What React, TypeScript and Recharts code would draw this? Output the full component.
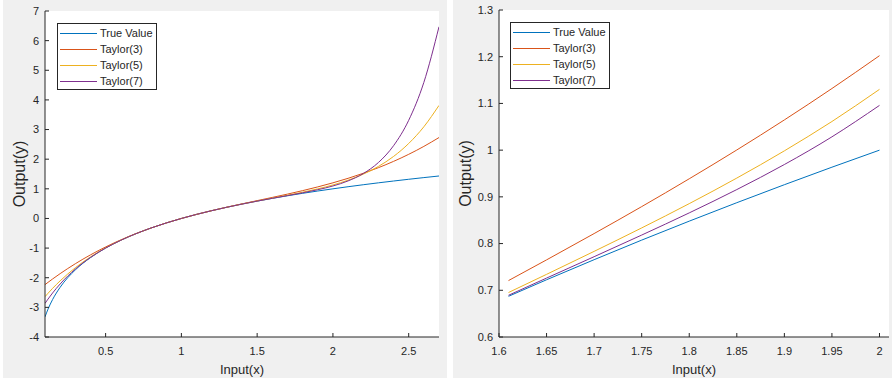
import React from 'react';
import { LineChart, Line, XAxis, YAxis, CartesianGrid, Legend } from 'recharts';

// left subplot: x from 0.1 to 2.7
const leftX = [0.1, 0.12, 0.15, 0.2, 0.3, 0.4, 0.5, 0.6, 0.7, 0.8, 0.9, 1.0, 1.1, 1.2, 1.3, 1.4, 1.5, 1.6, 1.7, 1.8, 1.9, 2.0, 2.1, 2.2, 2.3, 2.4, 2.5, 2.6, 2.7];
const leftTrue = [-3.3219, -3.0589, -2.737, -2.3219, -1.737, -1.3219, -1, -0.737, -0.5146, -0.3219, -0.152, 0, 0.1375, 0.263, 0.3785, 0.4854, 0.585, 0.6781, 0.7655, 0.848, 0.926, 1, 1.0704, 1.1375, 1.2016, 1.263, 1.3219, 1.3785, 1.433];
const leftT3 = [-2.2333, -2.1559, -2.0428, -1.862, -1.5283, -1.2292, -0.9618, -0.7233, -0.5107, -0.3212, -0.152, 0, 0.1375, 0.2635, 0.3809, 0.4924, 0.6011, 0.7098, 0.8214, 0.9387, 1.0647, 1.2022, 1.3542, 1.5235, 1.713, 1.9255, 2.164, 2.4314, 2.7305];
const leftT5 = [-2.6403, -2.5245, -2.3591, -2.1043, -1.6634, -1.2984, -0.9934, -0.7355, -0.5143, -0.3219, -0.152, 0, 0.1375, 0.263, 0.3787, 0.4862, 0.5876, 0.6855, 0.7833, 0.8855, 0.9985, 1.1301, 1.2908, 1.4936, 1.7542, 2.0918, 2.5292, 3.0933, 3.815];
const leftT7 = [-2.8667, -2.7204, -2.5159, -2.2106, -1.7086, -1.3153, -0.9987, -0.7368, -0.5146, -0.3219, -0.152, 0, 0.1375, 0.263, 0.3785, 0.4855, 0.5855, 0.6801, 0.7719, 0.8657, 0.9692, 1.0958, 1.2665, 1.5141, 1.8868, 2.4539, 3.3118, 4.5916, 6.4682];

// right subplot: zoomed in on 1.61 .. 2
const rightX = [1.61, 1.65, 1.7, 1.75, 1.8, 1.85, 1.9, 1.95, 2.0];
const rightTrue = [0.6871, 0.7225, 0.7655, 0.8074, 0.848, 0.8875, 0.926, 0.9635, 1];
const rightT3 = [0.7208, 0.7651, 0.8214, 0.8791, 0.9387, 1.0004, 1.0647, 1.1319, 1.2022];
const rightT5 = [0.6952, 0.7341, 0.7833, 0.8335, 0.8855, 0.9402, 0.9985, 1.0613, 1.1301];
const rightT7 = [0.6893, 0.7261, 0.7719, 0.8182, 0.8657, 0.9156, 0.9692, 1.0285, 1.0958];

const leftXTicks = [0.5, 1, 1.5, 2, 2.5];
const leftYTicks = [-4, -3, -2, -1, 0, 1, 2, 3, 4, 5, 6, 7];
const rightXTicks = [1.6, 1.65, 1.7, 1.75, 1.8, 1.85, 1.9, 1.95, 2];
const rightYTicks = [0.6, 0.7, 0.8, 0.9, 1, 1.1, 1.2, 1.3];

const seriesNames = ['True Value', 'Taylor(3)', 'Taylor(5)', 'Taylor(7)'];
const seriesKeys = ['trueValue', 't3', 't5', 't7'];
const COLORS = ['#0072BD', '#D95319', '#EDB120', '#7E2F8E'];

const FONT = '"Liberation Sans", Arial, Helvetica, sans-serif';
const TEXT = '#262626';
const BG = '#f0f0f0';

const build = (xs: number[], a: number[], b: number[], c: number[], d: number[]) =>
  xs.map((x, i) => ({ x, trueValue: a[i], t3: b[i], t5: c[i], t7: d[i] }));

const leftData = build(leftX, leftTrue, leftT3, leftT5, leftT7);
const rightData = build(rightX, rightTrue, rightT3, rightT5, rightT7);

// legend keeps plotting order (recharts sorts its payload by name otherwise)
const LegendBox = () => (
  <div
    style={{
      width: 100,
      height: 67,
      boxSizing: 'border-box',
      border: `1px solid ${TEXT}`,
      background: '#fff',
      paddingTop: 1,
      fontFamily: FONT,
      fontSize: 11,
      color: TEXT,
    }}
  >
    {seriesNames.map((name, i) => (
      <div key={name} style={{ display: 'flex', alignItems: 'center', height: 16 }}>
        <span style={{ display: 'block', width: 37, height: 1, background: COLORS[i], margin: '0 3px 0 2px' }} />
        <span>{name}</span>
      </div>
    ))}
  </div>
);

const tickStyle = { fill: TEXT, fontSize: 11, fontFamily: FONT };

interface PanelProps {
  data: any[];
  left: number;
  width: number;
  yAxisWidth: number;
  margin: { top: number; right: number; bottom: number; left: number };
  xDomain: number[];
  yDomain: number[];
  xTicks: number[];
  yTicks: number[];
  yLabelOffset: number;
  legendLeft: number;
  legendTop: number;
}

const Panel = (p: PanelProps) => (
  <div style={{ position: 'absolute', left: p.left, top: 0, width: p.width, height: 378, background: BG }}>
    <LineChart width={p.width} height={378} data={p.data} margin={p.margin}>
      <CartesianGrid horizontal={false} vertical={false} fill="#fff" stroke="none" />
      <XAxis
        type="number"
        dataKey="x"
        domain={p.xDomain}
        ticks={p.xTicks}
        interval={0}
        height={41}
        tick={tickStyle}
        tickSize={-4}
        tickMargin={14}
        axisLine={{ stroke: TEXT }}
        tickLine={{ stroke: TEXT }}
        allowDataOverflow
        label={{ value: 'Input(x)', position: 'insideBottom', offset: 4, fill: TEXT, fontSize: 13, fontFamily: FONT }}
      />
      <YAxis
        type="number"
        domain={p.yDomain}
        ticks={p.yTicks}
        interval={0}
        width={p.yAxisWidth}
        tick={tickStyle}
        tickSize={-4}
        tickMargin={10}
        axisLine={{ stroke: TEXT }}
        tickLine={{ stroke: TEXT }}
        allowDataOverflow
        label={{
          value: 'Output(y)',
          angle: -90,
          position: 'insideLeft',
          offset: p.yLabelOffset,
          fill: TEXT,
          fontSize: 16,
          fontFamily: FONT,
          style: { textAnchor: 'middle' },
        }}
      />
      <Legend
        content={<LegendBox />}
        layout="horizontal"
        verticalAlign="middle"
        align="center"
        wrapperStyle={{ left: p.legendLeft, top: p.legendTop, width: 100, height: 67 }}
      />
      {seriesKeys.map((k, i) => (
        <Line
          key={k}
          type="monotone"
          dataKey={k}
          name={seriesNames[i]}
          stroke={COLORS[i]}
          strokeWidth={1}
          dot={false}
          activeDot={false}
          isAnimationActive={false}
        />
      ))}
    </LineChart>
  </div>
);

export default function App() {
  return (
    <div style={{ position: 'absolute', left: 0, top: 0, width: 892, height: 383, background: '#fff', overflow: 'hidden' }}>
      <Panel
        data={leftData}
        left={3}
        width={444}
        yAxisWidth={42}
        margin={{ top: 11, right: 8, bottom: 0, left: 0 }}
        xDomain={[0.1, 2.7]}
        yDomain={[-4, 7]}
        xTicks={leftXTicks}
        yTicks={leftYTicks}
        yLabelOffset={16}
        legendLeft={54}
        legendTop={23}
      />
      <Panel
        data={rightData}
        left={453}
        width={439}
        yAxisWidth={46}
        margin={{ top: 10, right: 3, bottom: 0, left: 0 }}
        xDomain={[1.6, 2.01]}
        yDomain={[0.6, 1.3]}
        xTicks={rightXTicks}
        yTicks={rightYTicks}
        yLabelOffset={12}
        legendLeft={57}
        legendTop={22}
      />
    </div>
  );
}
